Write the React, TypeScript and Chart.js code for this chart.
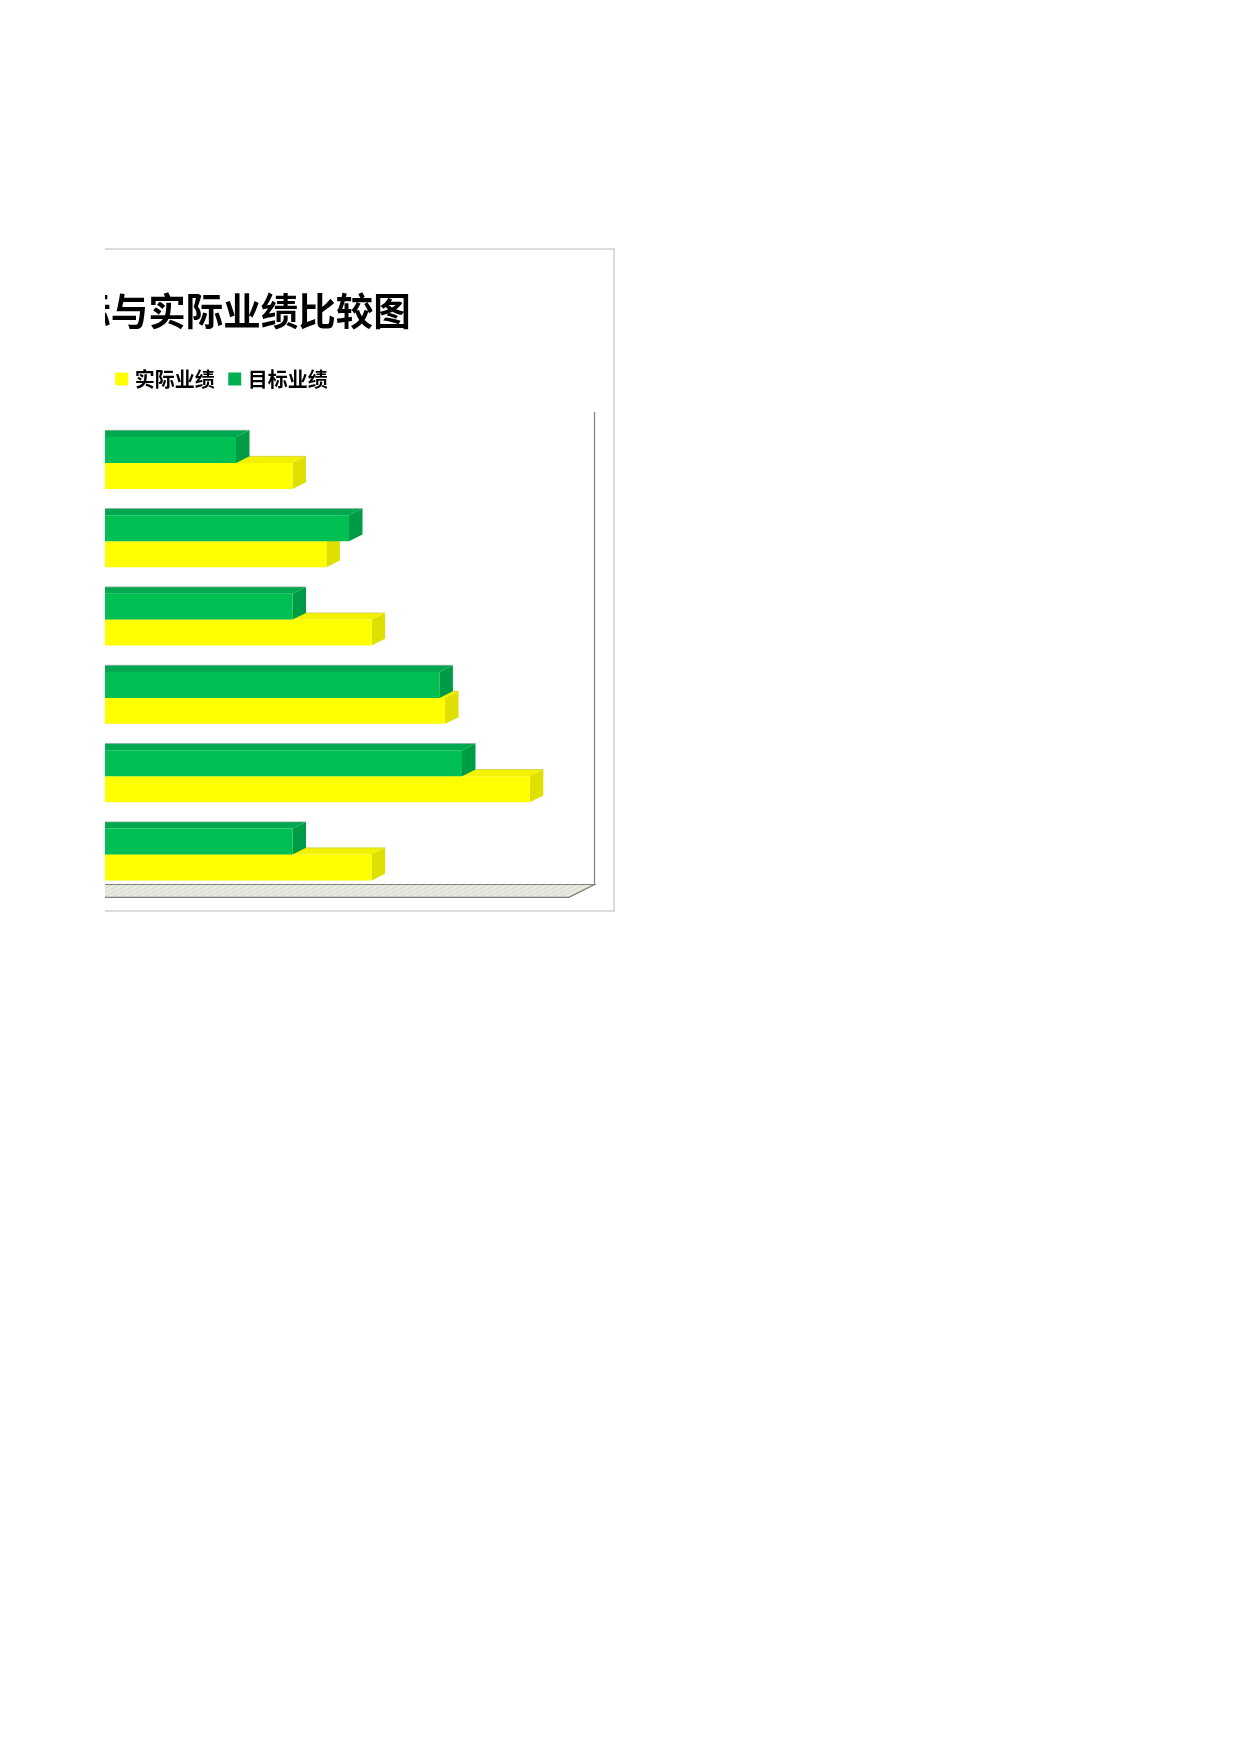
import React, { useEffect, useRef } from "react";
import { Chart, registerables } from "chart.js";

Chart.register(...registerables);

// The category names lie outside the visible part of the reference; row numbers stand in for them.
const categories = ["1", "2", "3", "4", "5", "6"];
const actual = [350, 380, 420, 485, 560, 420];
const target = [300, 400, 350, 480, 500, 350];
const titleText = "目标与实际业绩比较图";
const seriesNames = ["目标业绩", "实际业绩"];
const font = '"Noto Sans CJK SC", "Noto Sans", sans-serif';

const BAR_DX = 13.5;
const BAR_DY = 6.7;
const PLANE_BACK_DX = 19.5;
const PLANE_BACK_DY = 9.2;
const WALL_TOP_DY = 11.7;
const PLANE_FRONT_DX = 6;
const PLANE_FRONT_DY = 3.6;

const faceColors = [
  { top: "#00A94F", side: "#009B45", edge: "#8FA89A", legend: "#00B050" },
  { top: "#F2F200", side: "#E0E000", edge: "#C9C94A", legend: "#FFFF00" },
];

function makeFloorPattern(ctx: CanvasRenderingContext2D) {
  const tile = document.createElement("canvas");
  tile.width = 8;
  tile.height = 4;
  const t = tile.getContext("2d")!;
  t.fillStyle = "#E5E9DE";
  t.fillRect(0, 0, 8, 4);
  t.fillStyle = "#D6DDCE";
  [[0, 3], [1, 3], [2, 2], [3, 2], [4, 1], [5, 1], [6, 0], [7, 0]].forEach(([x, y]) => t.fillRect(x, y, 1, 1));
  t.fillStyle = "#F1F3EC";
  [[1, 0], [5, 2], [3, 3]].forEach(([x, y]) => t.fillRect(x, y, 1, 1));
  return ctx.createPattern(tile, "repeat")!;
}

function drawFaces(chart: any, di: number) {
  const { ctx, chartArea: a } = chart;
  const colors = faceColors[di];
  chart.getDatasetMeta(di).data.forEach((bar: any) => {
    const x0 = a.left;
    const x1 = bar.x;
    const yt = bar.y - bar.height / 2;
    const yb = bar.y + bar.height / 2;
    ctx.fillStyle = colors.top;
    ctx.beginPath();
    ctx.moveTo(x0, yt);
    ctx.lineTo(x1, yt);
    ctx.lineTo(x1 + BAR_DX, yt - BAR_DY);
    ctx.lineTo(x0 + BAR_DX, yt - BAR_DY);
    ctx.closePath();
    ctx.fill();
    ctx.strokeStyle = colors.edge;
    ctx.lineWidth = 0.7;
    ctx.beginPath();
    ctx.moveTo(x0 + BAR_DX, yt - BAR_DY);
    ctx.lineTo(x1 + BAR_DX, yt - BAR_DY);
    ctx.stroke();
    ctx.fillStyle = colors.side;
    ctx.beginPath();
    ctx.moveTo(x1, yt);
    ctx.lineTo(x1 + BAR_DX, yt - BAR_DY);
    ctx.lineTo(x1 + BAR_DX, yb - BAR_DY);
    ctx.lineTo(x1, yb);
    ctx.closePath();
    ctx.fill();
  });
}

const depthPlugin = {
  id: "depth",
  beforeDatasetsDraw(chart: any) {
    const { ctx, chartArea: a } = chart;
    ctx.save();

    // floor
    const fl = a.left - PLANE_FRONT_DX;
    const fr = a.right - PLANE_FRONT_DX;
    const fb = a.bottom + PLANE_FRONT_DY;
    const bl = a.left + PLANE_BACK_DX;
    const br = a.right + PLANE_BACK_DX;
    const bb = a.bottom - PLANE_BACK_DY;
    const bt = a.top - WALL_TOP_DY;
    ctx.beginPath();
    ctx.moveTo(fl, fb);
    ctx.lineTo(fr, fb);
    ctx.lineTo(br, bb);
    ctx.lineTo(bl, bb);
    ctx.closePath();
    ctx.fillStyle = makeFloorPattern(ctx);
    ctx.fill();
    ctx.strokeStyle = "#808080";
    ctx.lineWidth = 1.2;
    ctx.beginPath();
    ctx.moveTo(fl, fb);
    ctx.lineTo(fr, fb);
    ctx.lineTo(br, bb);
    ctx.lineTo(bl, bb);
    ctx.stroke();

    // back wall edge
    ctx.beginPath();
    ctx.moveTo(br, bb);
    ctx.lineTo(br, bt);
    ctx.stroke();

    // top and side faces; the lower series first, so the upper one covers it.
    // The front faces are the library's own bars.
    drawFaces(chart, 1);
    drawFaces(chart, 0);
    ctx.restore();
  },
};

export default function App() {
  const ref = useRef<HTMLCanvasElement>(null);

  useEffect(() => {
    const chart = new Chart(ref.current!, {
      type: "bar",
      data: {
        labels: categories,
        datasets: [
          { label: seriesNames[0], data: target, backgroundColor: "#00BF53", borderWidth: 0 },
          { label: seriesNames[1], data: actual, backgroundColor: "#FFFF00", borderWidth: 0 },
        ],
      },
      options: {
        indexAxis: "y",
        animation: false,
        responsive: false,
        devicePixelRatio: 1,
        datasets: { bar: { categoryPercentage: 0.663, barPercentage: 1 } },
        layout: { padding: { left: 37.5, right: 41, top: 0, bottom: 18.3 } },
        plugins: {
          title: {
            display: true,
            text: titleText,
            color: "#000000",
            font: { family: font, size: 37.5, weight: "bold" },
            padding: { top: 40, bottom: 19 },
          },
          legend: {
            display: true,
            position: "top",
            align: "center",
            reverse: true,
            onClick: () => {},
            labels: {
              color: "#000000",
              font: { family: font, size: 20, weight: "bold" },
              usePointStyle: true,
              pointStyle: "rect",
              boxWidth: 6,
              boxHeight: 13,
              padding: 17,
              generateLabels: (chart: any) =>
                Chart.defaults.plugins.legend.labels.generateLabels(chart).map((item: any) => ({
                  ...item,
                  fillStyle: faceColors[item.datasetIndex].legend,
                  lineWidth: 0,
                })),
            },
          },
          tooltip: { enabled: false },
        },
        scales: {
          x: {
            position: "top",
            min: 0,
            max: 600,
            grid: { display: false },
            border: { display: false },
            ticks: { display: false },
            afterFit: (s: any) => {
              s.height = 24.8;
            },
          },
          y: {
            grid: { display: false },
            border: { display: false },
            ticks: { display: false },
            afterFit: (s: any) => {
              s.width = 25.5;
            },
          },
        },
      },
      plugins: [depthPlugin],
    } as any);
    return () => chart.destroy();
  }, []);

  return (
    <div
      style={{
        position: "absolute",
        left: 105,
        top: 0,
        width: 1135,
        height: 1754,
        overflow: "hidden",
        background: "#ffffff",
      }}
    >
      <div
        style={{
          position: "absolute",
          left: -271,
          top: 248,
          width: 781,
          height: 664,
          boxSizing: "border-box",
          border: "2px solid #DCDCDC",
        }}
      />
      <canvas
        ref={ref}
        width={782}
        height={664}
        style={{ position: "absolute", left: -271, top: 248, width: 782, height: 664 }}
      />
    </div>
  );
}
